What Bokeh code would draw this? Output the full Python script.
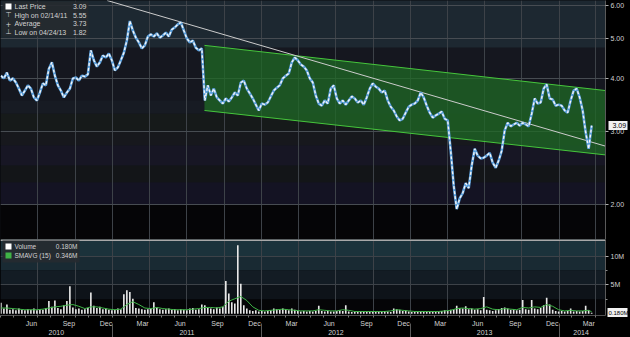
import pandas as pd
from bokeh.plotting import figure
from bokeh.models import (Range1d, FixedTicker, PrintfTickFormatter, DatetimeTickFormatter,
                          DatetimeAxis, LogAxis, LinearAxis, BoxAnnotation, Label, Span)
from bokeh.layouts import column
from bokeh.embed import file_html
from bokeh.resources import INLINE

# ---------------- data ----------------
price = [4.07, 4.01, 4.14, 3.96, 4.01, 3.92, 3.79, 3.65, 3.75, 3.86,
         3.79, 3.61, 3.55, 3.71, 3.90, 3.86, 4.23, 4.38, 4.07, 3.86,
         3.75, 3.61, 3.71, 3.79, 4.01, 4.03, 3.96, 4.07, 4.05, 4.10,
         4.68, 4.43, 4.28, 4.38, 4.55, 4.50, 4.60, 4.43, 4.19, 4.26,
         4.43, 4.62, 4.94, 5.50, 5.22, 5.02, 4.89, 4.73, 4.81, 5.05,
         5.11, 5.05, 5.14, 5.02, 5.08, 5.16, 5.05, 5.25, 5.31, 5.40,
         5.46, 5.22, 5.00, 4.89, 4.94, 4.75, 4.68, 4.73, 3.55, 3.86,
         3.65, 3.79, 3.61, 3.55, 3.49, 3.59, 3.53, 3.61, 3.71, 3.65,
         3.92, 3.96, 3.79, 3.69, 3.59, 3.47, 3.36, 3.49, 3.47, 3.51,
         3.63, 3.75, 3.81, 3.86, 4.01, 4.07, 4.12, 4.38, 4.50, 4.43,
         4.33, 4.28, 4.19, 4.01, 3.92, 3.65, 3.49, 3.45, 3.55, 3.49,
         3.79, 3.86, 3.59, 3.49, 3.55, 3.47, 3.55, 3.63, 3.59, 3.51,
         3.55, 3.47, 3.61, 3.79, 3.90, 3.83, 3.79, 3.71, 3.75, 3.55,
         3.43, 3.36, 3.25, 3.18, 3.21, 3.32, 3.43, 3.47, 3.49, 3.55,
         3.71, 3.61, 3.45, 3.32, 3.23, 3.27, 3.30, 3.34, 3.21, 3.18,
         2.69, 2.22, 1.95, 2.07, 2.13, 2.25, 2.19, 2.48, 2.72, 2.62,
         2.58, 2.59, 2.62, 2.66, 2.52, 2.45, 2.55, 2.69, 3.01, 3.14,
         3.08, 3.11, 3.14, 3.09, 3.14, 3.11, 3.08, 3.30, 3.59, 3.49,
         3.51, 3.79, 3.88, 3.59, 3.57, 3.45, 3.47, 3.45, 3.36, 3.32,
         3.55, 3.75, 3.79, 3.61, 3.36, 2.98, 2.72, 3.09]

volume = [1.9, 0.9, 1.6, 0.7, 0.8, 0.6, 0.9, 0.7, 0.6, 0.8,
          0.7, 0.9, 0.6, 0.8, 0.7, 1.0, 2.2, 1.2, 2.3, 1.0,
          0.8, 1.5, 2.2, 4.8, 1.1, 0.8, 0.9, 0.7, 0.8, 1.0,
          3.7, 1.4, 1.0, 1.2, 0.8, 0.9, 0.7, 0.6, 0.7, 0.9,
          0.8, 3.4, 4.1, 3.8, 2.6, 1.0, 0.9, 0.8, 0.7, 0.8,
          0.9, 2.0, 1.1, 0.8, 0.7, 0.8, 0.9, 0.7, 0.8, 0.6,
          0.8, 0.7, 0.6, 0.9, 1.0, 0.7, 0.8, 1.6, 1.5, 1.0,
          0.9, 0.8, 1.1, 0.9, 1.2, 5.7, 3.5, 2.0, 1.8, 11.9,
          5.2, 1.5, 0.9, 0.6, 0.5, 0.6, 0.4, 0.5, 0.4, 0.5,
          0.6, 0.9, 0.8, 0.7, 0.9, 0.8, 0.6, 0.9, 0.7, 0.5,
          0.4, 0.5, 0.4, 0.5, 0.4, 0.5, 1.4, 0.5, 0.4, 0.5,
          0.4, 0.4, 0.5, 0.6, 0.5, 1.5, 0.4, 0.3, 0.4, 0.3,
          0.4, 0.3, 0.4, 0.3, 0.4, 0.3, 0.4, 0.3, 0.5, 0.4,
          0.3, 0.9, 0.8, 0.7, 0.5, 0.6, 0.4, 0.3, 0.4, 0.3,
          0.4, 0.3, 0.4, 0.3, 0.4, 0.3, 0.4, 0.5, 0.6, 0.5,
          0.7, 0.8, 1.4, 1.0, 0.9, 1.3, 0.8, 0.9, 0.7, 0.8,
          0.6, 2.9, 0.7, 0.6, 0.5, 0.6, 0.8, 1.0, 1.1, 0.9,
          0.7, 0.8, 0.6, 0.7, 2.4, 0.8, 0.7, 2.4, 0.9, 0.8,
          1.0, 1.5, 2.8, 1.6, 0.7, 0.5, 0.4, 0.5, 0.4, 0.5,
          0.9, 0.4, 0.5, 0.4, 0.5, 1.4, 0.6, 0.18]

smavg = [1.0, 1.0, 0.9, 0.8, 0.7, 0.7, 0.7, 0.8, 1.0, 1.2,
         1.3, 1.5, 1.6, 1.3, 0.9, 1.2, 1.2, 1.0, 0.8, 0.7,
         0.8, 1.6, 2.1, 1.6, 1.0, 0.9, 1.1, 0.9, 0.8, 0.7,
         0.7, 0.7, 0.8, 0.9, 1.1, 1.1, 1.0, 1.2, 2.2, 2.6,
         3.0, 2.3, 1.2, 0.6, 0.5, 0.6, 0.7, 0.8, 0.7, 0.6,
         0.5, 0.5, 0.5, 0.7, 0.6, 0.5, 0.5, 0.7, 0.6, 0.4,
         0.4, 0.4, 0.4, 0.4, 0.4, 0.5, 0.7, 0.6, 0.5, 0.4,
         0.4, 0.4, 0.4, 0.4, 0.5, 0.6, 0.9, 1.0, 0.9, 0.8,
         0.9, 1.2, 0.8, 0.7, 0.9, 0.8, 0.7, 1.1, 1.0, 1.2,
         1.1, 1.6, 1.3, 0.7, 0.5, 0.6, 0.5, 0.5, 0.6, 0.35]

first_date = "2010-04-01"
last_date = "2014-03-22"

channel_dates = ["2011-08-14", "2014-04-25"]
channel_upper = [4.81, 3.75]
channel_lower = [3.36, 2.63]

trend_dates = ["2010-12-18", "2014-04-25"]
trend_prices = [6.16, 2.76]

last_price = 3.09
last_volume = 0.18

price_ticks = [2, 3, 4, 5, 6]
volume_ticks = [5, 10]
month_label_dates = [f"{y}-{m:02d}-15" for y in range(2010, 2015) for m in (3, 6, 9, 12)
                     if "2010-06-01" <= f"{y}-{m:02d}-15" <= "2014-03-31"]
year_labels = ["2010-08-15", "2011-07-02", "2012-07-02", "2013-07-02", "2014-02-24"]
year_starts = ["2011-01-01", "2012-01-01", "2013-01-01", "2014-01-01"]

legend_rows = [("Last Price", "3.09"), ("High on 02/14/11", "5.55"),
               ("Average", "3.73"), ("Low on 04/24/13", "1.82")]
vol_legend_rows = [("Volume", "0.180M"), ("SMAVG (15)", "0.346M")]

# ---------------- helpers ----------------
def ms(s):
    return pd.Timestamp(s).value / 1e6

dates = pd.date_range(first_date, last_date, periods=len(price))
sma_dates = list(dates[::2]) + [dates[-1]]

x_start, x_end = ms("2010-03-31"), ms("2014-04-25")
quarter_starts = [ms(d) for d in pd.date_range("2010-07-01", "2014-04-01", freq="QS")]
month_starts = [ms(d) for d in pd.date_range("2010-04-01", "2014-04-01", freq="MS")]

GRID = "#3d4248"
TXT = "#d2d2d2"
FONT = "Liberation Sans"


def style_side_axis(ax):
    ax.major_label_text_font_size = "7px"
    ax.major_label_text_font = FONT
    ax.major_label_text_color = TXT
    ax.major_tick_line_color = "#b0b0b0"
    ax.major_tick_out = 3
    ax.major_tick_in = 0
    ax.axis_line_color = "#5a5a5a"
    ax.major_label_standoff = 2


def tag_axis(cls, p, value, fmt, size, box_len, label_w):
    # an outer right axis whose single tick is drawn as a white tag holding the last value
    ax = cls(ticker=FixedTicker(ticks=[value], minor_ticks=[]),
             formatter=PrintfTickFormatter(format=fmt))
    ax.axis_line_color = None
    ax.minor_tick_line_color = None
    ax.major_tick_out = 0
    ax.major_tick_in = box_len
    ax.major_tick_line_color = "#f2f2f2"
    ax.major_tick_line_width = 9
    ax.major_label_standoff = -label_w
    ax.major_label_text_color = "#000000"
    ax.major_label_text_font_size = size
    ax.major_label_text_font = FONT
    p.add_layout(ax, "right")


# ---------------- price panel ----------------
p1 = figure(x_axis_type="datetime", y_axis_type="log",
            x_range=Range1d(x_start, x_end), y_range=Range1d(1.65, 6.16),
            frame_width=605, frame_height=239, y_axis_location="right",
            x_axis_location=None,
            output_backend="svg", toolbar_location=None,
            background_fill_color="#14171f", border_fill_color="#000000",
            outline_line_color=None,
            min_border_left=0, min_border_right=25, min_border_top=0, min_border_bottom=0)

bands = [(6.3, 4.75, "#1d2831"), (4.75, 3.55, "#15171f"), (3.55, 3.30, "#171b23"),
         (3.30, 3.01, "#161a1a"), (3.01, 2.77, "#17181d"), (2.77, 2.48, "#171624"),
         (2.48, 2.26, "#131518"), (2.26, 2.0, "#141323"), (2.0, 1.5, "#050507")]
for top, bot, col in bands:
    p1.add_layout(BoxAnnotation(top=top, bottom=bot, fill_color=col, fill_alpha=1.0,
                                line_color=None, level="image"))

p1.xgrid.ticker = FixedTicker(ticks=quarter_starts)
p1.xgrid.grid_line_color = GRID
p1.ygrid.ticker = FixedTicker(ticks=price_ticks)
p1.ygrid.grid_line_color = "#474c52"

ya = p1.yaxis[0]
ya.ticker = FixedTicker(ticks=price_ticks, minor_ticks=[])
ya.formatter = PrintfTickFormatter(format="%.2f")
style_side_axis(ya)
ya.minor_tick_line_color = None
tag_axis(LogAxis, p1, last_price, "%.2f", "7px", 19, 15)

# channel
cx = [ms(channel_dates[0]), ms(channel_dates[1]), ms(channel_dates[1]), ms(channel_dates[0])]
cy = [channel_upper[0], channel_upper[1], channel_lower[1], channel_lower[0]]
p1.patch(cx, cy, fill_color="#1f6a25", fill_alpha=0.75, line_color=None)
p1.line([ms(d) for d in channel_dates], channel_upper, line_color="#46c63c", line_width=1)
p1.line([ms(d) for d in channel_dates], channel_lower, line_color="#46c63c", line_width=1)

# trend line
p1.line([ms(d) for d in trend_dates], trend_prices, line_color="#cccccc", line_width=1)

# price
p1.line(dates, price, line_color="#5a9fdc", line_width=2.6)
p1.line(dates, price, line_color="#f4f4f4", line_width=1.4, line_dash="3 2")

# legend box
p1.add_layout(BoxAnnotation(left=2, right=88, top=238, bottom=203,
                            left_units="screen", right_units="screen",
                            top_units="screen", bottom_units="screen",
                            fill_color="#262a30", fill_alpha=0.9, line_color=None))
icons = ["", "\u22a4", "+", "\u22a5"]
for k, (name, val) in enumerate(legend_rows):
    yy = 233 - k * 8.6
    if k == 0:
        p1.add_layout(BoxAnnotation(left=5, right=11, top=yy + 3, bottom=yy - 3,
                                    left_units="screen", right_units="screen",
                                    top_units="screen", bottom_units="screen",
                                    fill_color="#ffffff", fill_alpha=1, line_color=None))
    else:
        p1.add_layout(Label(x=8, y=yy, x_units="screen", y_units="screen", text=icons[k],
                            text_color=TXT, text_font_size="7px", text_font="DejaVu Sans",
                            text_align="center", text_baseline="middle"))
    p1.add_layout(Label(x=14, y=yy, x_units="screen", y_units="screen", text=name,
                        text_color=TXT, text_font_size="7px", text_font=FONT,
                        text_baseline="middle"))
    p1.add_layout(Label(x=86, y=yy, x_units="screen", y_units="screen", text=val,
                        text_color=TXT, text_font_size="7px", text_font=FONT,
                        text_align="right", text_baseline="middle"))

# ---------------- volume panel ----------------
p2 = figure(x_axis_type="datetime", x_range=p1.x_range, y_range=Range1d(-0.3, 12.9),
            frame_width=605, frame_height=76, y_axis_location="right",
            output_backend="svg", toolbar_location=None,
            background_fill_color="#050507", border_fill_color="#000000",
            outline_line_color=None,
            min_border_left=0, min_border_right=25, min_border_top=0, min_border_bottom=0)

vbands = [(13.5, 10.0, "#1b323b"), (10.0, 7.5, "#192a33"), (7.5, 5.0, "#131c24"),
          (5.0, 2.5, "#0e1319"), (2.5, -1.0, "#050507")]
for top, bot, col in vbands:
    p2.add_layout(BoxAnnotation(top=top, bottom=bot, fill_color=col, fill_alpha=1.0,
                                line_color=None, level="image"))

p2.xgrid.ticker = FixedTicker(ticks=quarter_starts)
p2.xgrid.grid_line_color = GRID
p2.ygrid.ticker = FixedTicker(ticks=volume_ticks)
p2.ygrid.grid_line_color = GRID

p2.vbar(x=dates, top=volume, width=4.0 * 86400000, fill_color="#e8e8e8", line_color=None)
p2.line(sma_dates, smavg, line_color="#3fb447", line_width=1)

p2.add_layout(Span(location=12.9, dimension="width", line_color="#a8a8a8", line_width=3))

vy = p2.yaxis[0]
vy.ticker = FixedTicker(ticks=volume_ticks, minor_ticks=[2.5, 7.5])
vy.formatter = PrintfTickFormatter(format="%dM")
style_side_axis(vy)
vy.minor_tick_line_color = "#8a8a8a"
vy.minor_tick_out = 2
vy.minor_tick_in = 0
tag_axis(LinearAxis, p2, last_volume, "%.3fM", "6px", 20, 19)

fmt_b = {k: "%b" for k in ["microseconds", "milliseconds", "seconds", "minsec", "minutes",
                           "hourmin", "hours", "days", "months", "years"]}
fmt_y = {k: "%Y" for k in fmt_b}

xa = p2.xaxis[0]
xa.ticker = FixedTicker(ticks=[ms(d) for d in month_label_dates], minor_ticks=month_starts)
xa.formatter = DatetimeTickFormatter(**fmt_b)
xa.major_tick_line_color = None
xa.major_tick_out = 0
xa.major_tick_in = 0
xa.minor_tick_line_color = "#7a7a7a"
xa.minor_tick_out = 2
xa.minor_tick_in = 0
xa.axis_line_color = "#505050"
xa.major_label_text_font_size = "7px"
xa.major_label_text_font = FONT
xa.major_label_text_color = TXT
xa.major_label_standoff = 2

xb = DatetimeAxis(ticker=FixedTicker(ticks=[ms(d) for d in year_labels],
                                     minor_ticks=[ms(d) for d in year_starts]),
                  formatter=DatetimeTickFormatter(**fmt_y))
xb.axis_line_color = None
xb.major_tick_line_color = None
xb.major_tick_out = 0
xb.major_tick_in = 0
xb.minor_tick_line_color = "#5a5a5a"
xb.minor_tick_in = 6
xb.minor_tick_out = 8
xb.major_label_text_font_size = "7px"
xb.major_label_text_font = FONT
xb.major_label_text_color = TXT
xb.major_label_standoff = -8
p2.add_layout(xb, "below")

# volume legend
p2.add_layout(BoxAnnotation(left=2, right=79, top=75, bottom=53,
                            left_units="screen", right_units="screen",
                            top_units="screen", bottom_units="screen",
                            fill_color="#262a30", fill_alpha=0.9, line_color=None))
for k, (name, val) in enumerate(vol_legend_rows):
    yy = 69 - k * 9
    sq = "#ffffff" if k == 0 else "#3fb447"
    p2.add_layout(BoxAnnotation(left=5, right=11, top=yy + 3, bottom=yy - 3,
                                left_units="screen", right_units="screen",
                                top_units="screen", bottom_units="screen",
                                fill_color=sq, fill_alpha=1, line_color=None))
    p2.add_layout(Label(x=14, y=yy, x_units="screen", y_units="screen", text=name,
                        text_color=TXT, text_font_size="6.5px", text_font=FONT,
                        text_baseline="middle"))
    p2.add_layout(Label(x=77, y=yy, x_units="screen", y_units="screen", text=val,
                        text_color=TXT, text_font_size="6.5px", text_font=FONT,
                        text_align="right", text_baseline="middle"))

layout = column(p1, p2, spacing=0)
layout.styles = {"background-color": "#000000"}
open("out.html", "w").write(file_html(layout, INLINE))
